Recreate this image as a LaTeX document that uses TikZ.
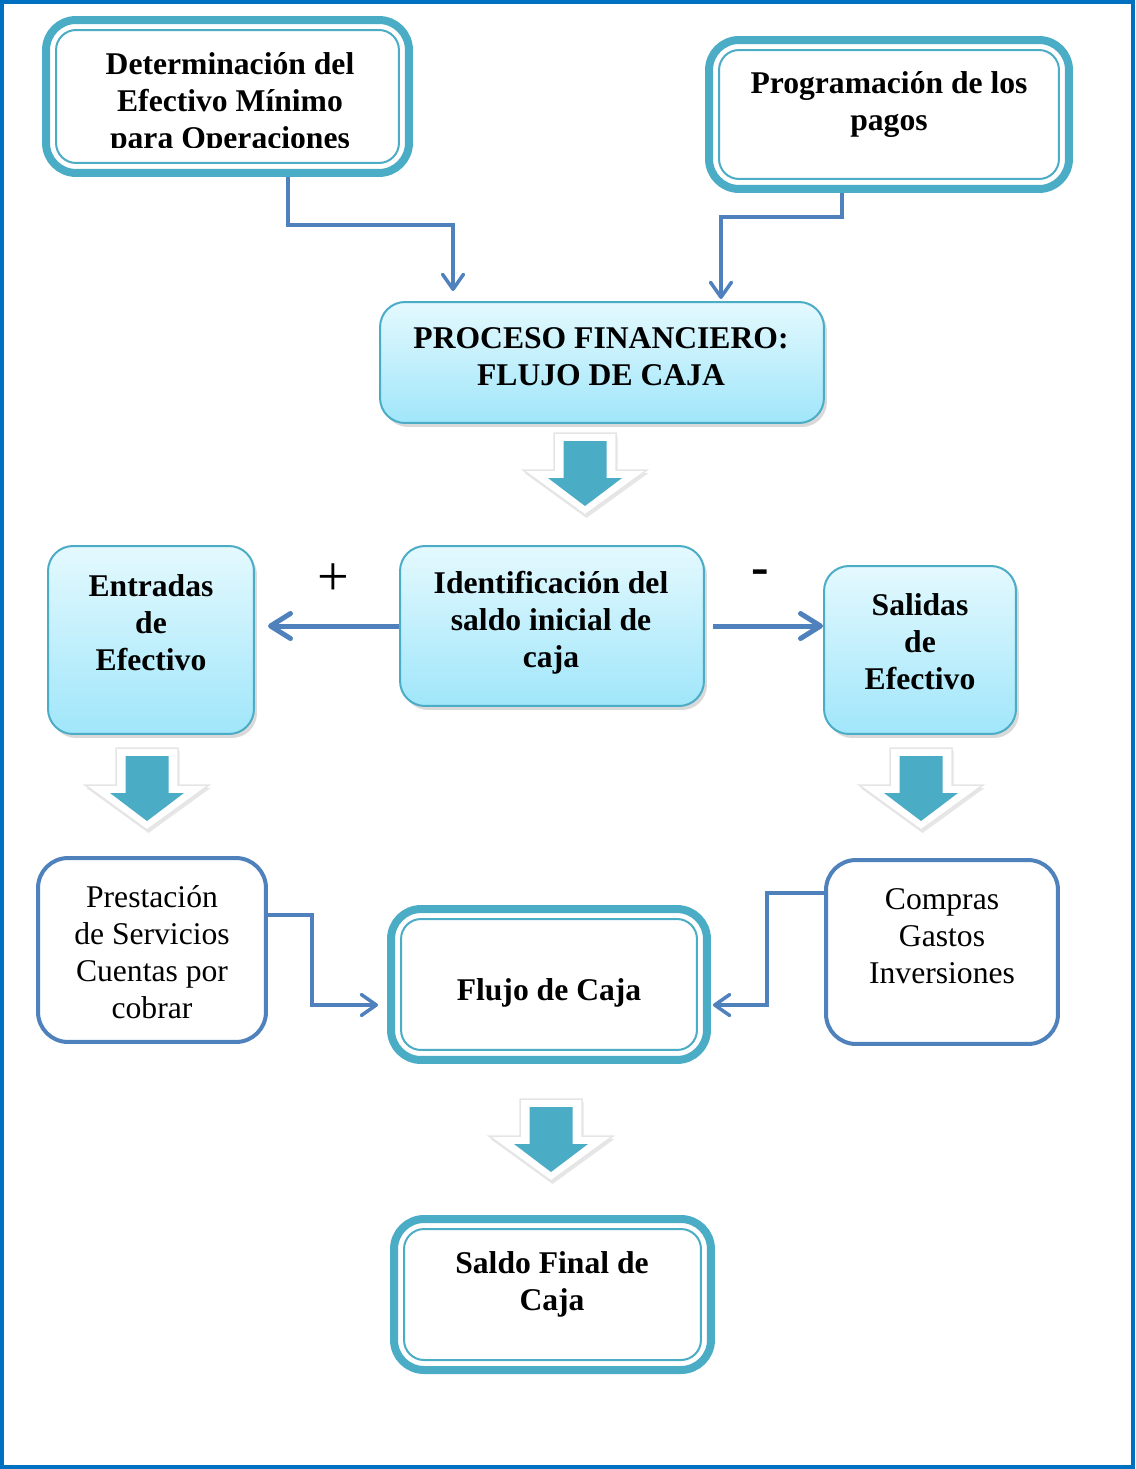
\documentclass[tikz,border=0pt]{standalone}
\usepackage{fontspec}
\setmainfont{Liberation Serif}
\usetikzlibrary{shadows, arrows.meta}
\definecolor{tealc}{RGB}{75,172,198}
\definecolor{bluec}{RGB}{79,129,189}
\definecolor{framec}{RGB}{0,112,192}
\definecolor{lighttop}{RGB}{228,249,254}
\definecolor{lightbot}{RGB}{160,230,250}
\tikzstyle{dbox} = [rectangle, rounded corners=0.6cm, draw=tealc, line width=0.16cm, fill=white]
\tikzstyle{innerline} = [draw=tealc, line width=0.04cm, rounded corners=0.4cm]
\tikzstyle{gbox} = [rectangle, rounded corners=0.5cm, draw=tealc, line width=0.04cm, top color=lighttop, bottom color=lightbot, drop shadow={opacity=0.3, shadow xshift=0.06cm, shadow yshift=-0.08cm}]
\tikzstyle{wbox} = [rectangle, rounded corners=0.6cm, draw=bluec, line width=0.08cm, fill=white]
\tikzstyle{btext} = [font=\fontsize{18}{21}\selectfont\bfseries, align=center, inner sep=0pt]
\tikzstyle{ntext} = [font=\fontsize{18}{21}\selectfont, align=center, inner sep=0pt]
\tikzstyle{thinarrow} = [draw=bluec, line width=0.07cm, -{Straight Barb[round, length=0.3cm, width=0.42cm]}]
\tikzstyle{thickarrow} = [draw=bluec, line width=0.1cm, -{Straight Barb[round, length=0.4cm, width=0.5cm]}]
\tikzstyle{bigarrow} = [fill=white, draw=black!10, line width=0.03cm, drop shadow={opacity=0.2, shadow xshift=0.03cm, shadow yshift=-0.06cm}]
\tikzstyle{frame} = [draw=framec, line width=0.08cm]
\begin{document}
\begin{tikzpicture}[x=0.02cm, y=-0.02cm]

    \useasboundingbox (0,0) rectangle (1135,1469);
    \draw [frame] (2,2) rectangle (1133,1467);

    \node (efmin) [dbox, minimum width=7.26cm, minimum height=3.06cm] at (227.5,96.5) {};
    \node (pagos) [dbox, minimum width=7.2cm, minimum height=2.98cm] at (889,114.5) {};
    \node (proc) [gbox, minimum width=8.88cm, minimum height=2.42cm] at (602,362.5) {};
    \node (entr) [gbox, minimum width=4.12cm, minimum height=3.76cm] at (151,640) {};
    \node (ident) [gbox, minimum width=6.08cm, minimum height=3.2cm] at (552,626) {};
    \node (sal) [gbox, minimum width=3.84cm, minimum height=3.36cm] at (920,650) {};
    \node (prest) [wbox, minimum width=4.56cm, minimum height=3.68cm] at (152,950) {};
    \node (compr) [wbox, minimum width=4.64cm, minimum height=3.68cm] at (942,952) {};
    \node (flujo) [dbox, minimum width=6.32cm, minimum height=3.02cm] at (549,984.5) {};
    \node (saldo) [dbox, minimum width=6.34cm, minimum height=3.02cm] at (552.5,1294.5) {};

    \foreach \b in {efmin, pagos, flujo, saldo}
        \draw [innerline] ([shift={(14,14)}]\b.north west) rectangle ([shift={(-14,-14)}]\b.south east);

    \begin{scope}
        \clip (40,20) rectangle (420,148);
        \node (efmint) [btext] at (230,104) {Determinación del\\Efectivo Mínimo\\para Operaciones};
    \end{scope}
    \node (pagost) [btext] at (889,104.5) {Programación de los\\pagos};
    \node (proct) [btext] at (601,356.5) {PROCESO FINANCIERO:\\FLUJO DE CAJA};
    \node (entrt) [btext] at (151,622.5) {Entradas\\de\\Efectivo};
    \node (identt) [btext] at (551,622.5) {Identificación del\\saldo inicial de\\caja};
    \node (salt) [btext] at (920,642) {Salidas\\de\\Efectivo};
    \node (prestt) [ntext] at (152,952) {Prestación\\de Servicios\\Cuentas por\\cobrar};
    \node (comprt) [ntext] at (942,936) {Compras\\Gastos\\Inversiones};
    \node (flujot) [btext] at (549,993) {Flujo de Caja};
    \node (saldot) [btext] at (552,1284.5) {Saldo Final de\\Caja};
    \node (mas) [font=\fontsize{32}{36}\selectfont] at (333,580) {+};
    \node (menos) [font=\fontsize{30}{34}\selectfont\bfseries] at (760,577) {-};

    \draw [thinarrow] ([xshift=1.21cm]efmin.south) -- ++(0,48) -| ([xshift=-2.98cm, yshift=0.2cm]proc.north);
    \draw [thinarrow] ([xshift=-0.94cm]pagos.south) -- ++(0,24) -| ([xshift=2.38cm, yshift=0.04cm]proc.north);
    \draw [thickarrow, shorten >=0.26cm] (ident.west) -- (ident.west -| entr.east);
    \draw [thickarrow, shorten <=0.16cm] (ident.east) -- (ident.east -| sal.west);
    \draw [thinarrow] ([yshift=0.7cm]prest.east) -- ++(44,0) |- ([xshift=-0.18cm, yshift=-0.41cm]flujo.west);
    \draw [thinarrow] ([yshift=1.18cm]compr.west) -- ++(-57,0) |- ([xshift=0.04cm, yshift=-0.41cm]flujo.east);

    \foreach \cx/\cy in {585/433, 147/748, 921/748, 551/1099} {
        \filldraw [bigarrow] (\cx-31,\cy) -- (\cx+31,\cy) -- (\cx+31,\cy+37) -- (\cx+62,\cy+37) -- (\cx,\cy+82) -- (\cx-62,\cy+37) -- (\cx-31,\cy+37) -- cycle;
        \fill [tealc] (\cx-21.5,\cy+8) -- (\cx+21.5,\cy+8) -- (\cx+21.5,\cy+45) -- (\cx+37,\cy+45) -- (\cx,\cy+73) -- (\cx-37,\cy+45) -- (\cx-21.5,\cy+45) -- cycle;
    }

\end{tikzpicture}
\end{document}
